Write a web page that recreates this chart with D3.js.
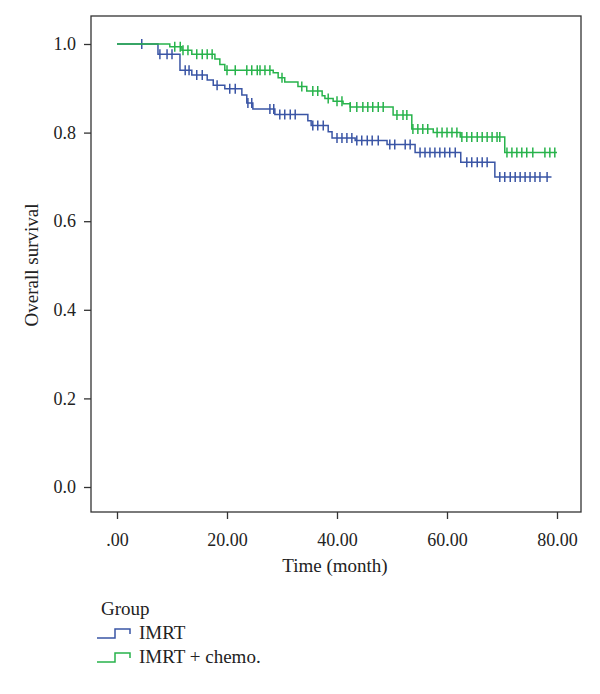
<!DOCTYPE html>
<html><head><meta charset="utf-8">
<script src="https://cdn.jsdelivr.net/npm/d3@7"></script>
<style>body{margin:0;background:#fff}svg{display:block}text{font-family:"Liberation Serif","DejaVu Serif",serif;fill:#222}</style>
</head><body><svg id="c" width="600" height="694"></svg>
<script>
const xTicks = [0, 20, 40, 60, 80];
const yTicks = [0, 0.2, 0.4, 0.6, 0.8, 1.0];
const groups = ["IMRT", "IMRT + chemo."];
// step change points: [time, survival after drop]
const imrtSteps = [[0,1.0],[7.45,0.977],[11.45,0.941],[13.6,0.930],[16.4,0.919],[17.5,0.907],[19.6,0.899],[22.7,0.885],[23.6,0.867],[24.7,0.853],[28.7,0.841],[34.7,0.827],[35.3,0.816],[38.4,0.802],[39.1,0.788],[43.3,0.782],[49.1,0.773],[54.2,0.755],[62.5,0.733],[68.7,0.70]];
const imrtEnd = 79.0;
const imrtCensor = [4.5,7.8,9.1,10.0,12.4,13.1,14.5,15.5,18.2,20.5,21.5,23.8,24.5,27.8,28.5,29.6,30.5,31.5,32.4,35.6,36.5,37.5,40.0,40.9,41.8,42.7,43.6,44.5,45.5,46.4,47.5,49.6,50.5,52.4,53.3,55.1,56.0,56.9,57.8,58.7,59.6,60.5,61.5,63.6,64.5,65.5,66.4,67.3,69.6,70.5,71.5,72.4,73.3,74.2,75.1,76.0,76.9,78.2];
const chemoSteps = [[0,1.0],[9.6,0.994],[11.8,0.986],[13.6,0.977],[17.8,0.966],[18.7,0.954],[19.6,0.941],[28.4,0.935],[29.3,0.924],[30.5,0.914],[32.9,0.904],[34.5,0.894],[37.3,0.883],[37.8,0.877],[39.3,0.871],[41.1,0.865],[42.4,0.858],[50.2,0.840],[53.6,0.808],[57.5,0.800],[62.4,0.790],[70.5,0.755]];
const chemoEnd = 80.0;
const chemoCensor = [10.5,11.5,12.0,12.9,14.5,15.5,16.4,17.3,20.0,21.5,23.6,24.5,25.5,26.0,26.9,27.8,30.0,33.6,35.6,36.5,38.4,40.0,40.9,42.4,43.6,44.7,45.6,46.5,47.5,48.4,50.9,52.0,52.7,53.8,54.7,55.6,56.5,58.2,59.1,60.0,60.9,61.8,62.7,63.6,64.5,65.5,66.4,67.3,68.2,69.1,69.6,70.9,71.8,72.7,73.6,74.5,75.6,77.8,78.7,79.6];
const colors = ["#3a55a5", "#27b34b"];

const svg = d3.select("#c");
const frame = {l: 91, r: 581, t: 16, b: 512};
const x = d3.scaleLinear().domain([0, 80]).range([117, 557]);
const y = d3.scaleLinear().domain([0, 1]).range([487, 44]);

svg.append("rect").attr("x", frame.l).attr("y", frame.t).attr("width", frame.r - frame.l).attr("height", frame.b - frame.t)
  .attr("fill", "none").attr("stroke", "#333").attr("stroke-width", 1.3);

const xa = svg.append("g").attr("transform", `translate(0,${frame.b})`)
  .call(d3.axisBottom(x).tickValues(xTicks).tickSize(7).tickPadding(14).tickFormat(d => d === 0 ? ".00" : d3.format(".2f")(d)));
const ya = svg.append("g").attr("transform", `translate(${frame.l},0)`)
  .call(d3.axisLeft(y).tickValues(yTicks).tickSize(7).tickPadding(8).tickFormat(d3.format(".1f")));
[xa, ya].forEach(g => {
  g.select(".domain").remove();
  g.selectAll("line").attr("stroke", "#333").attr("stroke-width", 1.3);
  g.selectAll("text").attr("font-size", 18).attr("fill", "#222").attr("font-family", '"Liberation Serif", serif');
});

svg.append("text").attr("x", 335).attr("y", 572).attr("text-anchor", "middle").attr("font-size", 19).text("Time (month)");
svg.append("text").attr("transform", "translate(38,265) rotate(-90)").attr("text-anchor", "middle").attr("font-size", 19).text("Overall survival");

function drawKM(steps, end, censor, color) {
  const pts = steps.map(d => [d[0], d[1]]);
  pts.push([end, steps[steps.length - 1][1]]);
  const line = d3.line().x(d => x(d[0])).y(d => y(d[1])).curve(d3.curveStepAfter);
  svg.append("path").attr("d", line(pts)).attr("fill", "none").attr("stroke", color).attr("stroke-width", 1.5);
  const surv = t => { let s = 1; for (const d of steps) if (d[0] <= t) s = d[1]; return s; };
  svg.append("g").selectAll("line").data(censor).join("line")
    .attr("x1", d => x(d)).attr("x2", d => x(d))
    .attr("y1", d => y(surv(d)) - 5).attr("y2", d => y(surv(d)) + 5)
    .attr("stroke", color).attr("stroke-width", 1.5);
}
drawKM(imrtSteps, imrtEnd, imrtCensor, colors[0]);
drawKM(chemoSteps, chemoEnd, chemoCensor, colors[1]);

// legend
svg.append("text").attr("x", 101).attr("y", 615).attr("font-size", 19).text("Group");
groups.forEach((g, i) => {
  const yy = 638 + i * 24;
  svg.append("path").attr("d", `M97,${yy} H115 V${yy - 9} H130 V${yy - 4}`).attr("fill", "none").attr("stroke", colors[i]).attr("stroke-width", 1.5);
  svg.append("text").attr("x", 139).attr("y", yy + 1).attr("font-size", 19).text(g);
});
</script></body></html>
